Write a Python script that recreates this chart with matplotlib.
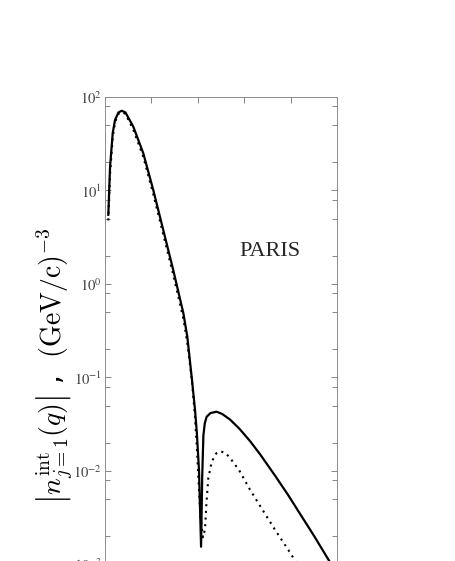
import numpy as np
import matplotlib
matplotlib.use("Agg")
import matplotlib.pyplot as plt
from matplotlib.ticker import LogLocator, FixedLocator, NullFormatter, FuncFormatter

# ---- data (q in axis units 0..1, log10 of |n|) ----
q_solid = [0.0142, 0.0216, 0.0332, 0.0431, 0.058, 0.072, 0.088, 0.122, 0.165, 0.208,
           0.251, 0.294, 0.3375, 0.3547, 0.375, 0.388, 0.396, 0.405, 0.414, 0.419,
           0.424, 0.430, 0.438, 0.455, 0.481, 0.505, 0.539, 0.580, 0.625, 0.668,
           0.733, 0.790, 0.841, 0.900, 0.961, 1.000]
log_solid = [0.74, 1.25, 1.615, 1.754, 1.835, 1.853, 1.835, 1.682, 1.398, 1.005,
             0.578, 0.150, -0.310, -0.564, -1.03, -1.348, -1.60, -1.99, -2.81, -2.05,
             -1.62, -1.49, -1.42, -1.38, -1.366, -1.39, -1.45, -1.55, -1.68, -1.82,
             -2.05, -2.26, -2.46, -2.69, -2.94, -3.10]

q_dot = [0.0142, 0.0216, 0.0332, 0.0431, 0.058, 0.072, 0.088, 0.122, 0.165, 0.208,
         0.251, 0.294, 0.3375, 0.3547, 0.375, 0.388, 0.397, 0.405, 0.412, 0.422,
         0.431, 0.437, 0.445, 0.460, 0.480, 0.499, 0.520, 0.539, 0.580, 0.625,
         0.680, 0.733, 0.797, 0.860]
log_dot = [0.68, 1.17, 1.57, 1.73, 1.82, 1.84, 1.82, 1.65, 1.36, 0.96,
           0.53, 0.10, -0.37, -0.63, -1.04, -1.43, -1.80, -2.20, -2.50, -2.71,
           -2.62, -2.35, -2.08, -1.90, -1.81, -1.79, -1.81, -1.86, -2.00, -2.20,
           -2.42, -2.63, -2.87, -3.13]

label_text = "PARIS"

fig = plt.figure(figsize=(4.56, 5.61), dpi=100)
ax = fig.add_axes([0.2303, -0.1729, 0.5088, 1.0])

ax.plot(q_solid, 10.0 ** np.array(log_solid), color="black", lw=1.6,
        solid_joinstyle="round")
ax.plot(q_dot, 10.0 ** np.array(log_dot), color="black", lw=1.5,
        linestyle=(0, (1, 2.2)))

ax.set_yscale("log")
ax.set_xlim(0, 1)
ax.set_ylim(1e-4, 1e2)

ax.xaxis.set_major_locator(FixedLocator([0, 0.2, 0.4, 0.6, 0.8, 1.0]))
ax.xaxis.set_major_formatter(NullFormatter())
ax.yaxis.set_major_locator(LogLocator(base=10, numticks=10))
ax.yaxis.set_minor_locator(LogLocator(base=10, subs=[2, 5, 8], numticks=10))
ax.yaxis.set_minor_formatter(NullFormatter())


def fmt(v, pos):
    return r"$10^{%d}$" % int(round(np.log10(v)))


ax.yaxis.set_major_formatter(FuncFormatter(fmt))
ax.tick_params(which="both", direction="in", top=True, right=True,
               color="0.45", width=0.6)
ax.tick_params(which="major", length=4.5, pad=2)
ax.tick_params(which="minor", length=3.5)
for t in ax.get_yticklabels():
    t.set_fontsize(10.5)
    t.set_math_fontfamily("stix")
    t.set_color("0.25")

for s in ax.spines.values():
    s.set_color("0.55")
    s.set_linewidth(0.7)

ax.text(270 / 456, 1 - 251 / 561, label_text, transform=fig.transFigure,
        ha="center", va="center", fontsize=16, family="Liberation Serif",
        color="0.15")

fig.text(55 / 456, 1 - 366 / 561,
         r"$\left|n^{\rm int}_{j=1}(q)\right|$ ,  $({\rm GeV/c})^{-3}$",
         rotation=90, ha="center", va="center", fontsize=20,
         math_fontfamily="cm")

fig.savefig("out.png", dpi=100)
